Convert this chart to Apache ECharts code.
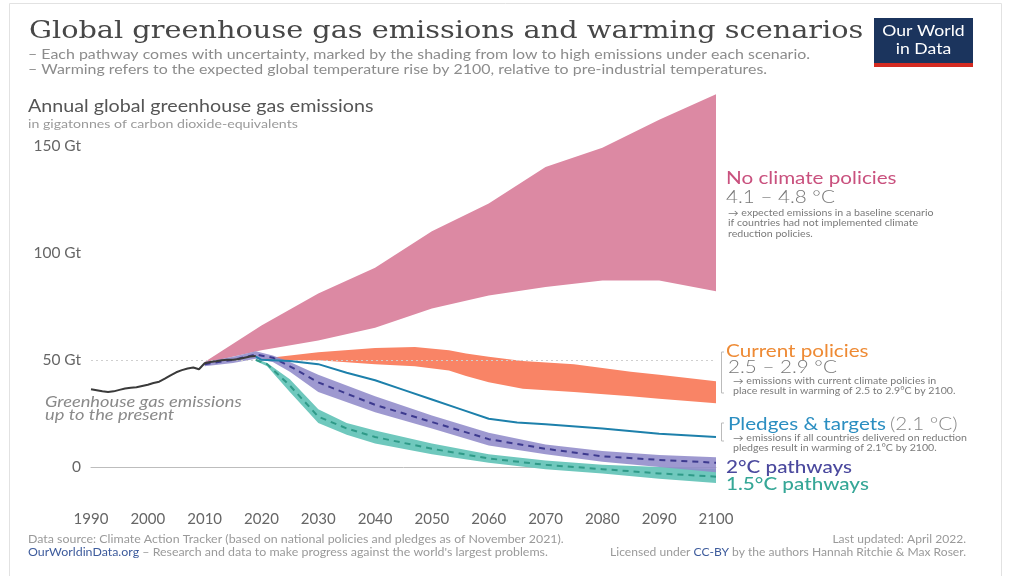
<!DOCTYPE html>
<html>
<head>
<meta charset="utf-8">
<script src="https://cdn.jsdelivr.net/npm/echarts@6/dist/echarts.min.js"></script>
<style>
html,body{margin:0;padding:0;background:#fff;}
#chart{width:1024px;height:576px;}
</style>
</head>
<body>
<div id="chart"></div>
<script>
// ---- Data ----
const xTicks = [1990, 2000, 2010, 2020, 2030, 2040, 2050, 2060, 2070, 2080, 2090, 2100];
const yTicks = [0, 50, 100, 150];

const histYears = [1990,1991,1992,1993,1994,1995,1996,1997,1998,1999,2000,2001,2002,2003,2004,2005,2006,2007,2008,2009,2010,2011,2012,2013,2014,2015,2016,2017,2018,2019];
const histValues = [36.3,35.8,35.3,35.0,35.3,36.0,36.6,37.0,37.2,37.8,38.4,39.2,39.8,41.2,42.8,44.2,45.2,46.0,46.4,45.6,48.4,49.0,49.3,49.8,50.0,50.1,50.4,51.0,51.6,51.8];

const noPolicyYears = [2010, 2020, 2030, 2040, 2050, 2060, 2070, 2080, 2090, 2100];
const noPolicyHigh  = [49, 66, 81, 93, 110, 123, 140, 149, 162, 174];
const noPolicyLow   = [48.5, 54.5, 59, 65, 74, 80, 84, 87, 87, 82];

const currentYears = [2020, 2030, 2040, 2047, 2053, 2056, 2060, 2066, 2075, 2085, 2090, 2100];
const currentHigh  = [50.5, 53.5, 55.5, 56, 54.5, 53, 51.5, 49.5, 48, 44.5, 43, 40];
const currentLow   = [49.8, 49.8, 48, 47, 45, 42.5, 39.5, 36.5, 35, 33, 31.8, 29.7];

const pledgeYears  = [2019, 2020, 2025, 2030, 2035, 2040, 2045, 2050, 2055, 2060, 2065, 2070, 2080, 2090, 2100];
const pledgeValues = [51.5, 50, 49.5, 48, 44, 40.5, 36, 31.5, 27, 22.5, 20.8, 20, 18, 15.5, 14];

const twoDegYears = [2010, 2015, 2019, 2022, 2025, 2030, 2040, 2050, 2060, 2070, 2080, 2090, 2100];
const twoDegHigh  = [49, 51.5, 54, 52, 49, 43, 33, 24, 16, 10.5, 7.5, 5.6, 4.5];
const twoDegMid   = [48, 50, 52.5, 51, 47, 39.5, 29, 21, 13, 8.5, 5, 3.3, 2];
const twoDegLow   = [47, 48.5, 50.5, 49, 44.5, 35, 25.5, 18, 10, 6, 2.5, 0, -2.5];

const onePtFiveYears = [2019, 2021, 2025, 2030, 2035, 2040, 2050, 2060, 2070, 2080, 2090, 2100];
const onePtFiveHigh  = [50.5, 48.5, 41, 27, 20.5, 17, 11, 6, 3, 1, 0, -1];
const onePtFiveMid   = [50, 48, 38, 23.5, 18, 14, 8.5, 4, 1, -1, -3, -4.5];
const onePtFiveLow   = [49.5, 47, 35, 20.5, 15, 11, 6, 2, -1, -3, -5.5, -7.5];

// ---- Helpers ----
function pairs(xs, ys) { return xs.map((x, i) => [x, ys[i]]); }

function band(name, years, high, low, color, z, opacity) {
  return {
    type: 'custom', name: name, coordinateSystem: 'cartesian2d',
    data: [[years[0], high[0]]], encode: {x: 0, y: 1},
    clip: false, silent: true, z: z,
    renderItem: function (params, api) {
      const pts = [];
      for (let i = 0; i < years.length; i++) pts.push(api.coord([years[i], high[i]]));
      for (let i = years.length - 1; i >= 0; i--) pts.push(api.coord([years[i], low[i]]));
      return { type: 'polygon', shape: { points: pts }, style: { fill: color, opacity: opacity } };
    }
  };
}

function line(name, years, vals, color, width, type, z) {
  return {
    type: 'line', name: name, data: pairs(years, vals), symbol: 'none', clip: false,
    silent: true, z: z, lineStyle: { color: color, width: width, type: type }, animation: false
  };
}

const FONT = 'Lato, "Noto Sans", sans-serif';
const SX = 1.18; // horizontal stretch of the reference's text
function T(text, x, y, font, fill, align, sx) {
  return { type: 'text', x: x, y: y, scaleX: sx || SX, silent: true,
    style: { text: text, font: font, fill: fill, align: align || 'left', verticalAlign: 'middle' } };
}
function R(rich, text, x, y, align, sx) {
  return { type: 'text', x: x, y: y, scaleX: sx || SX, silent: true,
    style: { rich: rich, text: text, align: align || 'left', verticalAlign: 'middle' } };
}
const small = (txt, x, y) => T(txt, x, y, '9px ' + FONT, '#7a7a7a');

const chart = echarts.init(document.getElementById('chart'), null, { renderer: 'canvas' });
chart.setOption({
  animation: false,
  backgroundColor: '#fff',
  grid: { left: 91, right: 308, top: 92, bottom: 109, containLabel: false },
  xAxis: {
    type: 'value', min: xTicks[0], max: xTicks[xTicks.length - 1], interval: 10,
    axisLine: { show: true, lineStyle: { color: '#bdbdbd', width: 1 } },
    axisTick: { show: false }, splitLine: { show: false },
    axisLabel: { margin: 45, color: '#666', fontFamily: FONT, fontSize: 15, formatter: v => String(v) }
  },
  yAxis: {
    type: 'value', min: 0, max: 175, interval: 50,
    axisLine: { show: false }, axisTick: { show: false }, splitLine: { show: false },
    axisLabel: { margin: 10, color: '#666', fontFamily: FONT, fontSize: 15.5,
      formatter: v => (yTicks.indexOf(v) < 0 ? '' : (v === 0 ? '0' : v + ' Gt')) }
  },
  series: [
    {
      type: 'line', data: [], silent: true,
      markLine: { silent: true, symbol: 'none', label: { show: false },
        lineStyle: { color: '#cfcfcf', type: [2, 3], width: 1 }, data: [{ yAxis: yTicks[1] }] }
    },
    band('No climate policies', noPolicyYears, noPolicyHigh, noPolicyLow, '#dc89a3', 1, 1),
    band('Current policies', currentYears, currentHigh, currentLow, '#f98466', 2, 1),
    band('1.5°C pathways', onePtFiveYears, onePtFiveHigh, onePtFiveLow, '#6fc8bd', 3, 1),
    band('2°C pathways', twoDegYears, twoDegHigh, twoDegLow, '#918bc9', 4, 0.88),
    line('1.5°C mid', onePtFiveYears, onePtFiveMid, '#2f9a88', 2, [6, 5], 5),
    line('2°C mid', twoDegYears, twoDegMid, '#3d3a8f', 2, [6, 5], 6),
    line('Pledges & targets', pledgeYears, pledgeValues, '#1d80ab', 2, 'solid', 7),
    line('Historic', histYears, histValues, '#3a3a3a', 2, 'solid', 8)
  ],
  graphic: [
    { type: 'rect', left: 7, top: 1, shape: { width: 992, height: 600 }, style: { fill: 'none', stroke: '#e2e2e2', lineWidth: 1 }, z: -1 },
    T('Global greenhouse gas emissions and warming scenarios', 29, 31, '25px "DejaVu Serif", serif', '#474747', 'left', 1.15),
    T('– Each pathway comes with uncertainty, marked by the shading from low to high emissions under each scenario.', 28, 55, '13.5px ' + FONT, '#8c8c8c'),
    T('– Warming refers to the expected global temperature rise by 2100, relative to pre-industrial temperatures.', 28, 70, '13.5px ' + FONT, '#8c8c8c'),
    // logo
    { type: 'rect', left: 874, top: 18, shape: { width: 99, height: 49 }, style: { fill: '#1b345d' } },
    { type: 'rect', left: 874, top: 63, shape: { width: 99, height: 4 }, style: { fill: '#d42b21' } },
    T('Our World', 923.5, 31, '16px ' + FONT, '#fff', 'center', 1.1),
    T('in Data', 923.5, 49, '16px ' + FONT, '#fff', 'center', 1.1),
    // axis titles
    T('Annual global greenhouse gas emissions', 28, 107, '16.7px ' + FONT, '#555'),
    T('in gigatonnes of carbon dioxide-equivalents', 28, 124, '12px ' + FONT, '#9a9a9a'),
    // history annotation
    T('Greenhouse gas emissions', 45, 402, 'italic 15.5px ' + FONT, '#8a8a8a'),
    T('up to the present', 45, 415, 'italic 15.5px ' + FONT, '#8a8a8a'),
    // right labels
    T('No climate policies', 726, 178, '17.5px ' + FONT, '#c9517e'),
    T('4.1 – 4.8 °C', 726, 197, '300 17.5px ' + FONT, '#777'),
    small('→ expected emissions in a baseline scenario', 728, 213),
    small('if countries had not implemented climate', 728, 223),
    small('reduction policies.', 728, 234),
    { type: 'polyline', shape: { points: [[724, 352], [721.5, 352], [721.5, 393], [724, 393]] }, style: { stroke: '#bbb', lineWidth: 1, fill: 'none' } },
    T('Current policies', 726, 351, '17.5px ' + FONT, '#ee8a34'),
    T('2.5 – 2.9 °C', 728, 367, '300 17.5px ' + FONT, '#777'),
    small('→ emissions with current climate policies in', 733, 381),
    small('place result in warming of 2.5 to 2.9°C by 2100.', 733, 391),
    { type: 'polyline', shape: { points: [[724, 423], [721.5, 423], [721.5, 441], [724, 441]] }, style: { stroke: '#bbb', lineWidth: 1, fill: 'none' } },
    R({ a: { fill: '#2b8ec1', font: '17.5px ' + FONT }, b: { fill: '#888', font: '300 17.5px ' + FONT } }, '{a|Pledges & targets} {b|(2.1 °C)}', 728, 424),
    small('→ emissions if all countries delivered on reduction', 733, 438),
    small('pledges result in warming of 2.1°C by 2100.', 733, 448),
    T('2°C pathways', 726, 467, '500 17.5px ' + FONT, '#4b499e'),
    T('1.5°C pathways', 726, 484, '500 17.5px ' + FONT, '#36a797'),
    // footer
    T('Data source: Climate Action Tracker (based on national policies and pledges as of November 2021).', 28, 540, '10.5px ' + FONT, '#9a9a9a'),
    R({ a: { fill: '#3d5b9c', font: '10.5px ' + FONT }, b: { fill: '#9a9a9a', font: '10.5px ' + FONT } }, '{a|OurWorldinData.org}{b| – Research and data to make progress against the world\'s largest problems.}', 28, 553),
    T('Last updated: April 2022.', 966, 540, '10.5px ' + FONT, '#9a9a9a', 'right', 1.15),
    R({ a: { fill: '#9a9a9a', font: '10.5px ' + FONT }, b: { fill: '#3d5b9c', font: '10.5px ' + FONT } }, '{a|Licensed under }{b|CC-BY}{a| by the authors Hannah Ritchie & Max Roser.}', 966, 553, 'right', 1.15)
  ]
});
</script>
</body>
</html>
